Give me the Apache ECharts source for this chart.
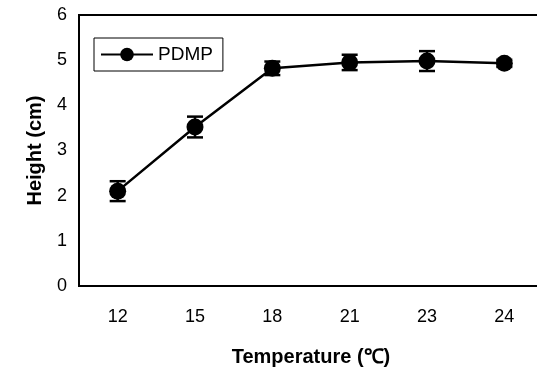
<!DOCTYPE html>
<html>
<head>
<meta charset="utf-8">
<script src="https://cdn.jsdelivr.net/npm/echarts@6/dist/echarts.min.js"></script>
<style>
    html, body { margin: 0; padding: 0; background: #fff; }
    #chart { width: 537px; height: 373px; }
</style>
</head>
<body>
<div id="chart"></div>
<script>
// values
const temps = ['12', '15', '18', '21', '23', '24'];
const heights = [2.1, 3.52, 4.82, 4.95, 4.98, 4.93];
const errors = [0.22, 0.23, 0.15, 0.17, 0.22, 0.08];
const yTicks = [0, 1, 2, 3, 4, 5, 6];

const font = '"Liberation Sans", Arial, sans-serif';

const errData = heights.map((h, i) => [i, h - errors[i], h + errors[i]]);

const chart = echarts.init(document.getElementById('chart'));

chart.setOption({
    backgroundColor: '#fff',
    animation: false,
    textStyle: { fontFamily: font, color: '#000' },
    grid: {
        left: 79, top: 15, width: 464, height: 271,
        outerBoundsMode: 'none',
        show: true, borderColor: '#000', borderWidth: 2, backgroundColor: 'transparent'
    },
    legend: {
        left: 94, top: 38,
        padding: [7, 10, 7, 6],
        borderColor: '#000', borderWidth: 1,
        itemWidth: 52, itemHeight: 17, itemGap: 5,
        textStyle: { fontSize: 19, color: '#000', fontFamily: font },
        data: ['PDMP']
    },
    xAxis: {
        type: 'category',
        data: temps,
        name: 'Temperature (℃)',
        nameLocation: 'middle',
        nameGap: 61,
        nameTextStyle: { fontSize: 20, fontWeight: 'bold', color: '#000' },
        axisLine: { show: false },
        axisTick: { show: false },
        axisLabel: { fontSize: 18, color: '#000', margin: 22 }
    },
    yAxis: {
        type: 'value',
        min: yTicks[0], max: yTicks[yTicks.length - 1], interval: 1,
        name: 'Height (cm)',
        nameLocation: 'middle',
        nameGap: 34,
        nameTextStyle: { fontSize: 20, fontWeight: 'bold', color: '#000' },
        axisLine: { show: false },
        axisTick: { show: false },
        splitLine: { show: false },
        axisLabel: { fontSize: 18, color: '#000', margin: 12 }
    },
    series: [
        {
            name: 'errors',
            type: 'custom',
            z: 1,
            data: errData,
            renderItem: function (params, api) {
                const lo = api.coord([api.value(0), api.value(1)]);
                const hi = api.coord([api.value(0), api.value(2)]);
                const w = 8;
                const style = { stroke: '#000', lineWidth: 2.5 };
                return {
                    type: 'group',
                    children: [
                        { type: 'line', shape: { x1: lo[0], y1: lo[1], x2: hi[0], y2: hi[1] }, style: style },
                        { type: 'line', shape: { x1: lo[0] - w, y1: lo[1], x2: lo[0] + w, y2: lo[1] }, style: style },
                        { type: 'line', shape: { x1: hi[0] - w, y1: hi[1], x2: hi[0] + w, y2: hi[1] }, style: style }
                    ]
                };
            }
        },
        {
            name: 'PDMP',
            type: 'line',
            z: 3,
            data: heights,
            symbol: 'circle',
            symbolSize: 17,
            lineStyle: { color: '#000', width: 2.5 },
            itemStyle: { color: '#000' }
        }
    ]
});
</script>
</body>
</html>
